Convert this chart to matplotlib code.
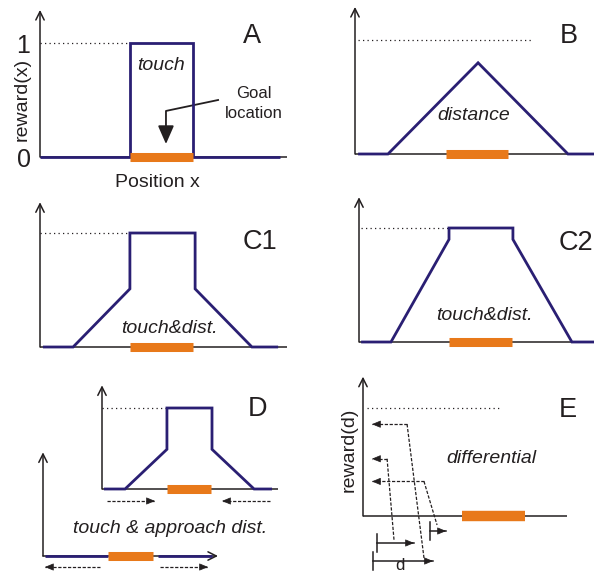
import matplotlib
matplotlib.use("Agg")
import matplotlib.pyplot as plt

plt.rcParams['font.family'] = ['Liberation Sans', 'DejaVu Sans']

W, H = 594, 575
BLUE = '#2a1f73'
ORANGE = '#e8791a'
INK = '#231f20'

# ---------------- data (panel units: x = position 0..1, y = reward, 1 = max) -------------
A_x = [0.0, 0.364, 0.364, 0.619, 0.619, 0.972]
A_y = [0, 0, 1, 1, 0, 0]
B_x = [0.013, 0.138, 0.515, 0.891, 1.0]
B_y = [0, 0, 0.80, 0, 0]
C1_x = [0.012, 0.134, 0.364, 0.364, 0.628, 0.628, 0.858, 0.964]
C1_y = [0, 0, 0.51, 1, 1, 0.51, 0, 0]
C2_x = [0.009, 0.136, 0.383, 0.383, 0.655, 0.655, 0.906, 1.0]
C2_y = [0, 0, 0.90, 1, 1, 0.90, 0, 0]
D_x = [0.011, 0.131, 0.369, 0.369, 0.625, 0.625, 0.864, 0.966]
D_y = [0, 0, 0.49, 1, 1, 0.49, 0, 0]
Dlow_left_x = [0.011, 0.371]
Dlow_right_x = [0.657, 0.966]

goal_A = (0.364, 0.619)
goal_B = (0.381, 0.640)
goal_C1 = (0.364, 0.619)
goal_C2 = (0.383, 0.651)
goal_D = (0.369, 0.619)
goal_Dlow = (0.371, 0.629)
goal_E = (0.485, 0.794)

# differential panel E: reward level reached for three approach distances d
E_reward = [0.85, 0.53, 0.32]
E_turn_x = [0.216, 0.118, 0.299]
E_foot = [(0.299, -0.389), (0.152, -0.222), (0.363, -0.083)]
E_d_start = [0.049, 0.069, 0.328]
E_d_end = [0.343, 0.250, 0.407]
E_d_y = [-0.417, -0.250, -0.139]

fig = plt.figure(figsize=(W / 100, H / 100), dpi=100)


def panel(x0, xend, base, dot):
    ax = fig.add_axes([x0 / W, 1 - base / H, (xend - x0) / W, (base - dot) / H])
    ax.set_xlim(0, 1)
    ax.set_ylim(0, 1)
    ax.axis('off')
    return ax


def axes_lines(ax, top, xend=1.0, xarrow=False):
    ax.annotate('', xy=(0, top), xytext=(0, 0), annotation_clip=False,
                arrowprops=dict(arrowstyle='->,head_length=0.5,head_width=0.25',
                                lw=1.1, color=INK, shrinkA=0, shrinkB=0, mutation_scale=12))
    if xarrow:
        ax.annotate('', xy=(xend, 0), xytext=(0, 0), annotation_clip=False,
                    arrowprops=dict(arrowstyle='->,head_length=0.5,head_width=0.25',
                                    lw=1.1, color=INK, shrinkA=0, shrinkB=0, mutation_scale=12))
    else:
        ax.plot([0, xend], [0, 0], color=INK, lw=1.1, clip_on=False, zorder=1,
                solid_capstyle='butt')


def curve(ax, xs, ys):
    ax.plot(xs, ys, color=BLUE, lw=2.0, clip_on=False, zorder=3,
            solid_joinstyle='miter', solid_capstyle='butt')


def goal(ax, g, lw=6.5):
    ax.plot(list(g), [0, 0], color=ORANGE, lw=lw, solid_capstyle='butt',
            clip_on=False, zorder=4)


def dotted(ax, x0, x1):
    ax.plot([x0, x1], [1, 1], color=INK, lw=0.9, ls=(0, (1, 2.6)), clip_on=False, zorder=2)


def head(ax, start, end, ms=9):
    dx, dy = end[0] - start[0], end[1] - start[1]
    ax.annotate('', xy=end, xytext=(end[0] - 0.15 * dx, end[1] - 0.15 * dy),
                annotation_clip=False,
                arrowprops=dict(arrowstyle='-|>,head_length=0.6,head_width=0.25',
                                lw=0.5, color=INK, shrinkA=0, shrinkB=0, mutation_scale=ms))


def dashed_arrow(ax, start, end):
    ax.plot([start[0], end[0]], [start[1], end[1]], color=INK, lw=0.9,
            ls=(0, (2.6, 1.3)), clip_on=False, zorder=2)
    head(ax, start, end)


def ftext(x, y, s, size=14, style='normal', ha='center', va='baseline', rot=0):
    fig.text(x / W, 1 - y / H, s, fontsize=size, style=style, ha=ha, va=va,
             rotation=rot, color=INK)


LET = 19.5

# ---------------- Panel A ----------------
axA = panel(40, 287, 157, 43)
axes_lines(axA, 1.29)
curve(axA, A_x, A_y)
goal(axA, goal_A)
dotted(axA, 0, A_x[1])
axA.plot([0.721, 0.510, 0.510], [0.50, 0.404, 0.25], color=INK, lw=1.3, clip_on=False)
axA.annotate('', xy=(0.510, 0.114), xytext=(0.510, 0.26), annotation_clip=False,
             arrowprops=dict(arrowstyle='-|>,head_length=0.8,head_width=0.35',
                             lw=1.3, color=INK, shrinkA=0, shrinkB=0, mutation_scale=14))
ftext(252, 43, 'A', size=LET)
ftext(23, 53, '1', size=18)
ftext(24, 167, '0', size=18)
ftext(22, 99, 'reward(x)', size=14, va='center', rot=90)
ftext(157, 187, 'Position x', size=14)
ftext(161, 70, 'touch', size=14, style='italic')
ftext(254, 98, 'Goal', size=12)
ftext(254, 118, 'location', size=12)

# ---------------- Panel B ----------------
axB = panel(355, 594, 154, 40)
axes_lines(axB, 1.29)
curve(axB, B_x, B_y)
goal(axB, goal_B)
dotted(axB, 0.013, 0.741)
ftext(569, 43, 'B', size=LET)
ftext(474, 120, 'distance', size=14, style='italic')

# ---------------- Panel C1 ----------------
axC1 = panel(40, 287, 347, 233)
axes_lines(axC1, 1.27)
curve(axC1, C1_x, C1_y)
goal(axC1, goal_C1)
dotted(axC1, 0, C1_x[2])
ftext(260, 249, 'C1', size=LET)
ftext(169, 333, 'touch&dist.', size=14, style='italic')

# ---------------- Panel C2 ----------------
axC2 = panel(359, 594, 342, 228)
axes_lines(axC2, 1.27)
curve(axC2, C2_x, C2_y)
goal(axC2, goal_C2)
dotted(axC2, 0.009, C2_x[2])
ftext(559, 250, 'C2', size=LET, ha='left')
ftext(484, 320, 'touch&dist.', size=14, style='italic')

# ---------------- Panel D ----------------
axD = panel(102, 278, 489, 408)
axes_lines(axD, 1.28)
curve(axD, D_x, D_y)
goal(axD, goal_D)
dotted(axD, 0, D_x[2])
dashed_arrow(axD, (0.028, -0.148), (0.301, -0.148))
dashed_arrow(axD, (0.955, -0.148), (0.682, -0.148))
ftext(257, 416, 'D', size=LET)
ftext(170, 533, 'touch & approach dist.', size=14, style='italic')

axDl = panel(43, 218, 556, 475)
axes_lines(axDl, 1.28, xarrow=True)
curve(axDl, Dlow_left_x, [0, 0])
curve(axDl, Dlow_right_x, [0, 0])
goal(axDl, goal_Dlow)
dashed_arrow(axDl, (0.326, -0.136), (0.011, -0.136))
dashed_arrow(axDl, (0.669, -0.136), (0.943, -0.136))

# ---------------- Panel E ----------------
axE = panel(363, 567, 516, 408)
axes_lines(axE, 1.29)
goal(axE, goal_E, lw=7.5)
dotted(axE, 0.020, 0.681)
for r, tx, foot, d0, d1, dy in zip(E_reward, E_turn_x, E_foot, E_d_start, E_d_end, E_d_y):
    dashed_arrow(axE, (tx, r), (0.044, r))
    axE.plot([tx, foot[0]], [r, foot[1]], color=INK, lw=0.9, ls=(0, (2.6, 1.3)),
             clip_on=False, zorder=2)
    axE.plot([d0, d0], [dy - 0.085, dy + 0.085], color=INK, lw=1.1, clip_on=False)
    axE.plot([d0, d1], [dy, dy], color=INK, lw=1.1, clip_on=False)
    head(axE, (d0, dy), (d1, dy))
ftext(568, 417, 'E', size=LET)
ftext(491, 463, 'differential', size=14, style='italic')
ftext(349, 450, 'reward(d)', size=14, va='center', rot=90)
ftext(400, 570, 'd', size=12)

fig.savefig('out.png', dpi=100)
